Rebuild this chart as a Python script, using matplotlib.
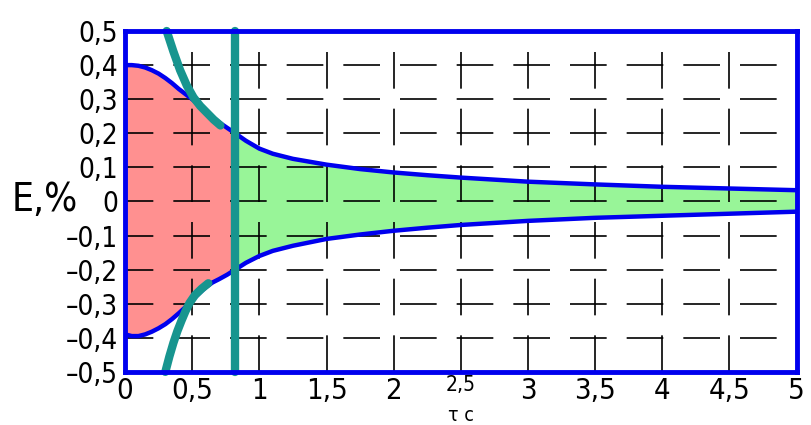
import matplotlib.pyplot as plt
import numpy as np

# данные огибающей
x = [0, 0.05, 0.1, 0.15, 0.2, 0.25, 0.3, 0.35, 0.4, 0.45, 0.5, 0.55, 0.6, 0.65, 0.7, 0.76, 0.82,
     0.9, 1.0, 1.1, 1.25, 1.5, 1.75, 2, 2.25, 2.5, 3, 3.5, 4, 4.5, 5]
upper = [0.40, 0.40, 0.398, 0.393, 0.385, 0.375, 0.362, 0.347, 0.33, 0.315, 0.30, 0.283, 0.265, 0.248, 0.232, 0.216, 0.20,
         0.178, 0.155, 0.14, 0.125, 0.108, 0.095, 0.085, 0.077, 0.07, 0.058, 0.05, 0.043, 0.038, 0.033]
lower = [-0.39, -0.395, -0.395, -0.39, -0.382, -0.372, -0.36, -0.345, -0.328, -0.31, -0.29, -0.27, -0.252, -0.238, -0.228, -0.215, -0.20,
         -0.18, -0.16, -0.145, -0.13, -0.11, -0.097, -0.086, -0.077, -0.069, -0.057, -0.048, -0.042, -0.036, -0.03]

# бирюзовые кривые
teal_up_x = [0.31, 0.36, 0.41, 0.46, 0.51, 0.56, 0.61, 0.66, 0.71]
teal_up_y = [0.50, 0.44, 0.385, 0.34, 0.305, 0.28, 0.26, 0.24, 0.223]
teal_lo_x = [0.30, 0.33, 0.36, 0.39, 0.42, 0.45, 0.48, 0.52, 0.57, 0.62]
teal_lo_y = [-0.50, -0.455, -0.415, -0.38, -0.35, -0.322, -0.298, -0.275, -0.256, -0.24]
tau_c = 0.82

xticks = [0, 0.5, 1, 1.5, 2, 2.5, 3, 3.5, 4, 4.5, 5]
xlabels = ['0', '0,5', '1', '1,5', '2', '', '3', '3,5', '4', '4,5', '5']
yticks = [0.5, 0.4, 0.3, 0.2, 0.1, 0, -0.1, -0.2, -0.3, -0.4, -0.5]
ylabels = ['0,5', '0,4', '0,3', '0,2', '0,1', '0', '\u20130,1', '\u20130,2', '\u20130,3', '\u20130,4', '\u20130,5']

plt.rcParams['font.family'] = ['DejaVu Sans']
plt.rcParams['font.stretch'] = 'condensed'

fig = plt.figure(figsize=(8.12, 4.25), dpi=100)
ax = fig.add_axes([0.154, 0.125, 0.827, 0.802])

xa = np.array(x)
ua = np.array(upper)
la = np.array(lower)
ax.fill_between(xa, la, ua, where=xa <= tau_c, color='#ff9090', lw=0, interpolate=True)
ax.fill_between(xa, la, ua, where=xa >= tau_c, color='#98f598', lw=0, interpolate=True)

# сетка
for t in xticks[1:-1]:
    ax.axvline(t, color='k', lw=1.2, ls=(0, (22, 12)), zorder=1)
for t in yticks[1:-1]:
    ax.axhline(t, color='k', lw=1.2, ls=(5, (22, 12)), zorder=1)

ax.plot(x, upper, color='#0000ee', lw=3.2, zorder=3)
ax.plot(x, lower, color='#0000ee', lw=3.2, zorder=3)

ax.plot(teal_up_x, teal_up_y, color='#17958f', lw=6, solid_capstyle='round', zorder=4, clip_on=False)
ax.plot(teal_lo_x, teal_lo_y, color='#17958f', lw=6, solid_capstyle='round', zorder=4, clip_on=False)
ax.plot([tau_c, tau_c], [-0.5, 0.5], color='#17958f', lw=6, solid_capstyle='round', zorder=4, clip_on=False)

ax.set_xlim(0, 5)
ax.set_ylim(-0.5, 0.5)
ax.set_xticks(xticks)
ax.set_xticklabels(xlabels, fontsize=21)
ax.set_yticks(yticks)
ax.set_yticklabels(ylabels, fontsize=20)
ax.tick_params(axis='x', length=0, pad=4)
ax.tick_params(axis='y', length=0, pad=5)
for s in ax.spines.values():
    s.set_color('#0000ee')
    s.set_linewidth(3.5)
    s.set_zorder(5)

ax.text(2.5, -0.51, '2,5', ha='center', va='top', fontsize=15)
ax.text(2.5, -0.6, '\u03c4 c', ha='center', va='top', fontsize=14)
fig.text(0.014, 0.53, 'E,%', ha='left', va='center', fontsize=28)

plt.savefig('out.png')
